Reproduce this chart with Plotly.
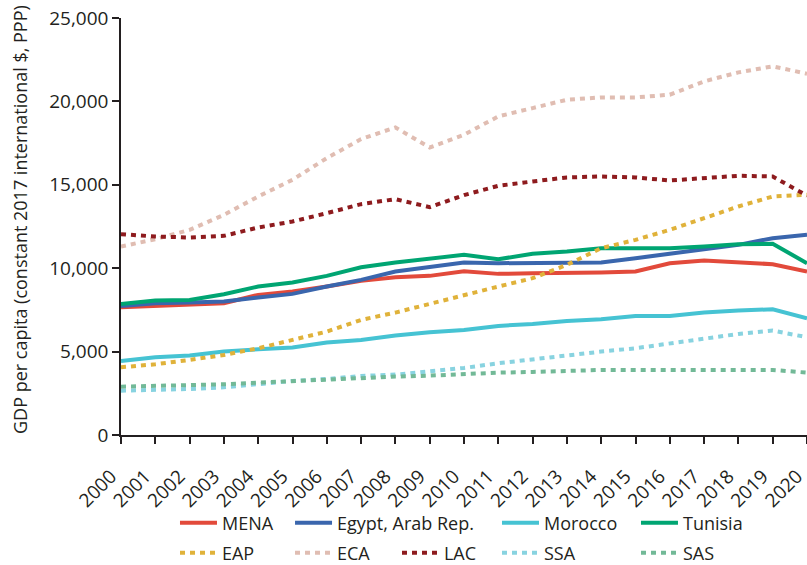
import plotly.graph_objects as go

# Data (GDP per capita, constant 2017 intl $, PPP)
years = list(range(2000, 2021))

mena = [7660, 7740, 7860, 7900, 8400, 8600, 8900, 9240, 9460, 9540, 9820,
        9660, 9700, 9700, 9740, 9800, 10300, 10460, 10360, 10240, 9800]
egypt = [7740, 7900, 7940, 8000, 8240, 8460, 8900, 9300, 9800, 10060, 10340,
         10300, 10300, 10300, 10340, 10600, 10860, 11100, 11400, 11800, 12000]
morocco = [4440, 4660, 4760, 5000, 5140, 5240, 5540, 5700, 5960, 6160, 6300,
           6540, 6660, 6840, 6940, 7140, 7140, 7340, 7460, 7540, 7000]
tunisia = [7860, 8060, 8100, 8440, 8900, 9140, 9540, 10060, 10340, 10540, 10800,
           10540, 10860, 11000, 11200, 11200, 11200, 11300, 11440, 11460, 10300]
eap = [4060, 4240, 4500, 4800, 5200, 5700, 6200, 6900, 7340, 7860, 8400,
       8900, 9400, 10200, 11200, 11700, 12300, 13000, 13700, 14300, 14400]
eca = [11300, 11740, 12300, 13200, 14300, 15300, 16600, 17740, 18440, 17240, 18000,
       19100, 19600, 20100, 20240, 20240, 20400, 21200, 21740, 22100, 21660]
lac = [12040, 11900, 11840, 11940, 12440, 12800, 13300, 13840, 14140, 13660, 14380,
       14940, 15200, 15440, 15500, 15440, 15260, 15400, 15540, 15500, 14350]
ssa = [2660, 2700, 2760, 2860, 3060, 3240, 3360, 3540, 3620, 3800, 4020,
       4300, 4540, 4740, 5000, 5200, 5500, 5740, 6060, 6260, 5860]
sas = [2900, 2940, 3000, 3040, 3140, 3240, 3360, 3440, 3500, 3560, 3660,
       3740, 3780, 3860, 3900, 3900, 3900, 3900, 3900, 3900, 3740]

series = [
    ("MENA", mena, "#e24a3b", "solid", "legend", 0.0787, -0.211),
    ("Egypt, Arab Rep.", egypt, "#3a66ad", "solid", "legend2", 0.2464, -0.211),
    ("Morocco", morocco, "#46c3d3", "solid", "legend3", 0.5481, -0.211),
    ("Tunisia", tunisia, "#00a572", "solid", "legend4", 0.7507, -0.211),
    ("EAP", eap, "#e0b23a", "5px,5px", "legend5", 0.0787, -0.283),
    ("ECA", eca, "#e0bdb2", "5px,5px", "legend6", 0.2464, -0.283),
    ("LAC", lac, "#8e1b1e", "5px,5px", "legend7", 0.4023, -0.283),
    ("SSA", ssa, "#88d3e0", "5px,5px", "legend8", 0.5481, -0.283),
    ("SAS", sas, "#72b997", "5px,5px", "legend9", 0.7507, -0.283),
]

font = "Open Sans, sans-serif"
ink = "#231f20"

fig = go.Figure()
legends = {}
for name, vals, color, dash, lg, lx, ly in series:
    fig.add_trace(go.Scatter(
        x=years, y=vals, name=name, mode="lines",
        line=dict(color=color, width=4, dash=dash),
        legend=lg,
    ))
    # one legend per entry so each one sits where the original has it
    legends[lg] = dict(
        x=lx, y=ly, xanchor="left", yanchor="middle",
        orientation="h", itemwidth=37, borderwidth=0,
        bgcolor="rgba(0,0,0,0)",
        font=dict(family=font, size=18, color=ink),
    )

fig.update_layout(
    width=807, height=565,
    margin=dict(l=121, r=0, t=18, b=130, autoexpand=False),
    plot_bgcolor="white", paper_bgcolor="white",
    font=dict(family=font, size=18, color=ink),
    showlegend=True,
    annotations=[dict(
        text="GDP per capita (constant 2017 international $, PPP)",
        xref="paper", yref="paper", x=-0.147, y=0.516,
        xanchor="center", yanchor="middle", textangle=-90,
        showarrow=False, font=dict(size=18, color=ink),
    )],
    **legends,
)

fig.update_xaxes(
    range=[2000, 2020], tickvals=years, tickangle=-45,
    showline=True, linecolor=ink, linewidth=1.5,
    ticks="outside", ticklen=7, tickwidth=1.5, tickcolor=ink,
    showgrid=False, zeroline=False, automargin=False,
    ticklabeloverflow="allow", ticklabelstandoff=14, ticklabelshift=-10,
    tickfont=dict(size=19),
)
fig.update_yaxes(
    range=[0, 25000], tickvals=[0, 5000, 10000, 15000, 20000, 25000],
    tickformat=",d",
    showline=True, linecolor=ink, linewidth=1.5,
    ticks="outside", ticklen=7, tickwidth=1.5, tickcolor=ink,
    showgrid=False, zeroline=False, automargin=False,
    tickfont=dict(size=19),
)

# drop the default page margin so the figure fills the window
fig.write_html("out.html", config={"displayModeBar": False},
               post_script="document.body.style.margin='0';")
